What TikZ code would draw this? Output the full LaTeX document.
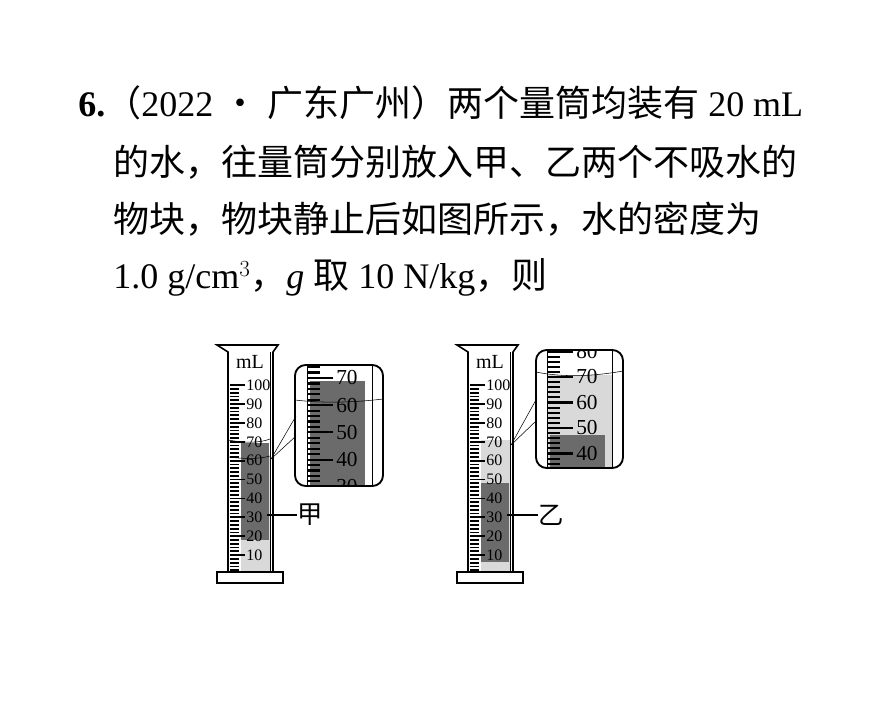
\documentclass[tikz,border=0pt]{standalone}
\usepackage{fontspec}
\setmainfont{Liberation Serif}
\newfontfamily\cjk{Noto Sans CJK SC}
\definecolor{water}{gray}{0.85}
\definecolor{block}{gray}{0.42}
\tikzset{
  line/.style={anchor=west,inner sep=0pt,font=\fontsize{27}{27}\selectfont},
  num/.style={anchor=west,inner sep=0pt,font=\fontsize{12}{12}\selectfont},
  bignum/.style={anchor=west,inner sep=0pt,font=\fontsize{16}{16}\selectfont},
  tag/.style={inner sep=0pt,font=\cjk\fontsize{19}{19}\selectfont},
  glass/.style={line width=1.2pt},
}
\begin{document}
\begin{tikzpicture}[x=0.75pt,y=-0.75pt]
  \useasboundingbox (0,0) rectangle (870,706);
  % question text
  \node[line] (l1) at (78,103) {\textbf{6.}{\cjk （}2022 {\cjk ·} {\cjk 广东广州）两个量筒均装有} 20 mL};
  \node[line] (l2) at (113,162) {\cjk 的水，往量筒分别放入甲、乙两个不吸水的};
  \node[line] (l3) at (113,219) {\cjk 物块，物块静止后如图所示，水的密度为};
  \node[line] (l4) at (113,277) {1.0 g/cm$^3${\cjk ，}\textit{g} {\cjk 取} 10 N/kg{\cjk ，则}};
  % water and blocks
  \fill[water] (241,457) rectangle (270,572);
  \fill[block] (241,443) rectangle (269,540);
  \fill[water] (481,440) rectangle (510,572);
  \fill[block] (481,483) rectangle (509,562);
  % cylinders
  \foreach \dx in {0,240} {
    \draw[glass] (228+\dx,572) -- (228+\dx,352) -- (217+\dx,345) -- (278+\dx,345) -- (273+\dx,352) -- (273+\dx,572);
    \draw (270+\dx,352) -- (270+\dx,572);
    \draw[glass] (217+\dx,572) rectangle (283+\dx,583);
    \node[inner sep=0pt,font=\fontsize{15}{15}\selectfont] at (250+\dx,362) {mL};
    \foreach \v in {2,4,...,100} {
      \pgfmathsetmacro\yy{574-1.889*\v}
      \draw[line width=1.3pt] (230+\dx,\yy) -- (239+\dx,\yy);
    }
    \foreach \v in {10,20,...,100} {
      \pgfmathsetmacro\yy{574-1.889*\v}
      \draw[line width=1.3pt] (230+\dx,\yy) -- (245+\dx,\yy);
      \node[num] at (246+\dx,\yy) {\v};
    }
  }
  % water surfaces
  \draw (228,457) .. controls (245,459) and (260,459) .. (270,456);
  \draw (228,440) .. controls (245,443) and (260,443) .. (270,439);
  % magnifier of the first cylinder
  \begin{scope}
    \clip[rounded corners=8pt] (295,365) rectangle (383,486);
    \fill[block] (310,381) rectangle (365,486);
    \foreach \v in {20,22,...,74} {
      \pgfmathsetmacro\yy{378+(70-\v)*2.72}
      \draw[line width=1.6pt] (308,\yy) -- (320,\yy);
    }
    \foreach \v in {20,30,...,70} {
      \pgfmathsetmacro\yy{378+(70-\v)*2.72}
      \draw[line width=1.6pt] (308,\yy) -- (333,\yy);
      \node[bignum] at (336,\yy) {\v};
    }
    \draw (307,365) -- (307,486);
    \draw (372,365) -- (372,486);
    \draw (295,400) .. controls (320,403) and (350,403) .. (383,399);
  \end{scope}
  \draw[line width=1.4pt,rounded corners=8pt] (295,365) rectangle (383,486);
  % magnifier of the second cylinder
  \begin{scope}
    \clip[rounded corners=8pt] (536,350) rectangle (623,468);
    \fill[water] (547,375) rectangle (612,468);
    \fill[block] (550,435) rectangle (605,468);
    \foreach \v in {34,36,...,84} {
      \pgfmathsetmacro\yy{377+(70-\v)*2.55}
      \draw[line width=1.6pt] (548,\yy) -- (560,\yy);
    }
    \foreach \v in {40,50,...,80} {
      \pgfmathsetmacro\yy{377+(70-\v)*2.55}
      \draw[line width=1.6pt] (548,\yy) -- (573,\yy);
      \node[bignum] at (576,\yy) {\v};
    }
    \draw (547,350) -- (547,468);
    \draw (612,350) -- (612,468);
    \draw (536,372) .. controls (560,377) and (590,377) .. (623,371);
  \end{scope}
  \draw[line width=1.4pt,rounded corners=8pt] (536,350) rectangle (623,468);
  % callouts
  \coordinate (p1) at (271,459);
  \coordinate (a1) at (296,416);
  \coordinate (b1) at (296,436);
  \draw (a1) -- (p1) -- (b1);
  \coordinate (p2) at (511,445);
  \coordinate (a2) at (537,398);
  \coordinate (b2) at (537,420);
  \draw (a2) -- (p2) -- (b2);
  % labels
  \node[tag] (jia) at (310,515) {甲};
  \coordinate (j1) at (267,515);
  \draw[line width=1pt] (j1) -- (jia.west);
  \node[tag] (yi) at (551,515) {乙};
  \coordinate (y1) at (507,515);
  \draw[line width=1pt] (y1) -- (yi.west);
\end{tikzpicture}
\end{document}
